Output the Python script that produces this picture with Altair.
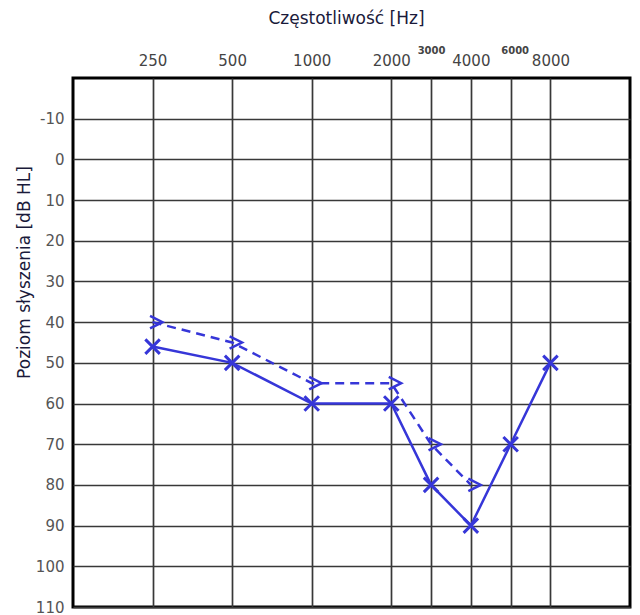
import altair as alt
import pandas as pd

freq_labels = ["250", "500", "1000", "2000", "3000", "4000", "6000", "8000"]
freq_pos = [1, 2, 3, 4, 4.5, 5, 5.5, 6]
air_db = [46, 50, 60, 60, 80, 90, 70, 50]
bone_labels = ["250", "500", "1000", "2000", "3000", "4000"]
bone_db = [40, 45, 55, 55, 70, 80]
y_ticks = [-10, 0, 10, 20, 30, 40, 50, 60, 70, 80, 90, 100, 110]

pos_of = dict(zip(freq_labels, freq_pos))
air = pd.DataFrame({"f": freq_labels, "pos": freq_pos, "db": air_db})
bone = pd.DataFrame({"f": bone_labels, "pos": [pos_of[f] for f in bone_labels], "db": bone_db})

BLUE = "#3636d8"
label_map = "{" + ",".join(f"'{p}':'{l}'" for p, l in zip(freq_pos, freq_labels)) + "}"
small = "datum.value == 4.5 || datum.value == 5.5"

x_enc = alt.X(
    "pos:Q",
    scale=alt.Scale(domain=[0, 7], nice=False, zero=False),
    axis=alt.Axis(
        orient="top",
        title="Częstotliwość [Hz]",
        titleFont="DejaVu Sans",
        titleFontSize=17,
        titleFontWeight="normal",
        titleColor="#1a1a3a",
        titleX=273,
        titleY=-60,
        titleBaseline="middle",
        values=freq_pos,
        labelExpr=f"{label_map}[''+datum.value]",
        labelFont="DejaVu Sans",
        labelColor="#444444",
        labelFontSize={"condition": {"test": small, "value": 10}, "value": 15},
        labelFontWeight={"condition": {"test": small, "value": "bold"}, "value": "normal"},
        labelPadding={"condition": {"test": small, "value": 23}, "value": 10},
        labelOffset={"condition": {"test": "datum.value == 5.5", "value": 4}, "value": 0},
        labelFlush=False,
        labelOverlap=False,
        ticks=False,
        domain=False,
        grid=True,
        gridColor="#383838",
        gridWidth=1.7,
    ),
)

y_enc = alt.Y(
    "db:Q",
    scale=alt.Scale(domain=[-20, 110], reverse=True, nice=False, zero=False),
    axis=alt.Axis(
        title="Poziom słyszenia [dB HL]",
        titleFont="DejaVu Sans",
        titleFontSize=17,
        titleFontWeight="normal",
        titleColor="#1a1a3a",
        titleX=-49,
        titleY=194,
        titleBaseline="middle",
        values=y_ticks,
        labelExpr="'' + datum.value",
        labelFont="DejaVu Sans",
        labelColor="#555555",
        labelFontSize=15,
        labelPadding=9,
        labelFlush=False,
        labelOverlap=False,
        ticks=False,
        domain=False,
        grid=True,
        gridColor="#383838",
        gridWidth=1.7,
    ),
)

air_line = alt.Chart(air).mark_line(color=BLUE, strokeWidth=2.5).encode(x=x_enc, y=y_enc)
air_pts = alt.Chart(air).mark_point(
    shape="M-1,-1L1,1M1,-1L-1,1", size=210, color=BLUE, strokeWidth=3, filled=False, opacity=1
).encode(x="pos:Q", y="db:Q")

bone_line = alt.Chart(bone).mark_line(color=BLUE, strokeWidth=2.5, strokeDash=[9, 6]).encode(x="pos:Q", y="db:Q")
bone_pts = alt.Chart(bone).mark_point(
    shape="M-0.8,-0.9L1,0L-0.8,0.9", size=190, color=BLUE, strokeWidth=2.5, filled=False, opacity=1, xOffset=3
).encode(x="pos:Q", y="db:Q")

chart = (
    alt.layer(air_line, bone_line, air_pts, bone_pts)
    .properties(
        width=557,
        height=529,
        autosize=alt.AutoSizeParams(type="none"),
        padding={"left": 65, "top": 70, "right": 2, "bottom": 8},
        background="white",
    )
    .configure_view(stroke="black", strokeWidth=3)
)

chart.save("out.html", embed_options={"renderer": "svg", "actions": False})
